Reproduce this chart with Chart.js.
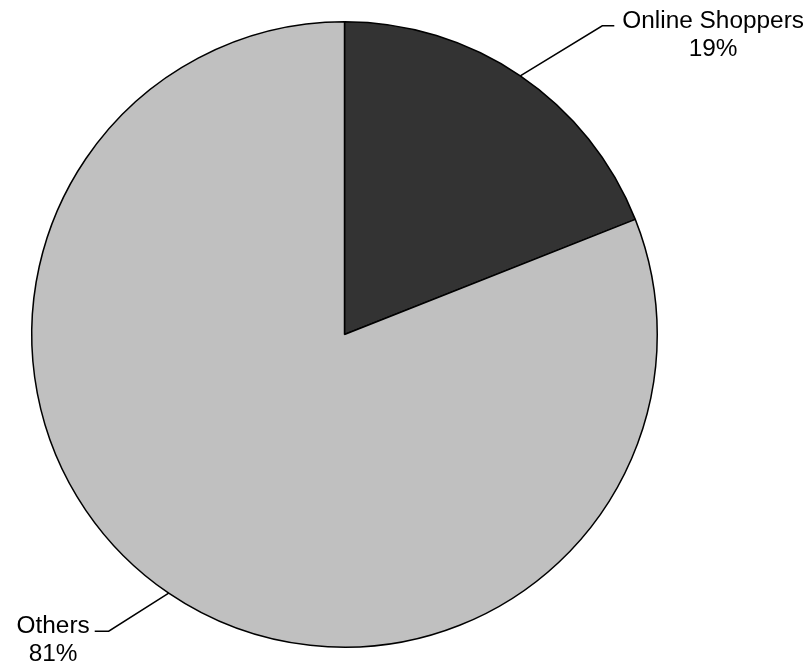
<!DOCTYPE html>
<html>
<head>
<meta charset="utf-8">
<script src="https://cdn.jsdelivr.net/npm/chart.js@4"></script>
<style>
  html, body { margin: 0; padding: 0; background: #fff; }
  #wrap { width: 809px; height: 664px; }
</style>
</head>
<body>
<div id="wrap"><canvas id="myChart" width="809" height="664"></canvas></div>
<script>
// data
var labels = ["Online Shoppers", "Others"];
var shares = [19, 81];
var colors = ['#333333', '#c0c0c0'];

// leader line shape per slice: elbow offset from slice edge, then short tail
var leaders = [
	{dx: 82, dy: -50, tail: 12},
	{dx: -60, dy: 38, tail: -14}
];

var leaderLabels = {
	id: 'leaderLabels',
	afterDatasetsDraw: function(chart) {
		var ctx = chart.ctx;
		var meta = chart.getDatasetMeta(0);
		ctx.save();
		ctx.font = '24.4px "Liberation Sans", Arial, sans-serif';
		ctx.fillStyle = '#000';
		ctx.strokeStyle = '#000';
		ctx.lineWidth = 1.5;
		meta.data.forEach(function(arc, i) {
			var p = arc.getProps(['x', 'y', 'startAngle', 'endAngle', 'outerRadius'], true);
			var mid = (p.startAngle + p.endAngle) / 2;
			var ex = p.x + Math.cos(mid) * p.outerRadius;
			var ey = p.y + Math.sin(mid) * p.outerRadius;
			var L = leaders[i];
			var bx = ex + L.dx, by = ey + L.dy;
			var tx = bx + L.tail;
			ctx.beginPath();
			ctx.moveTo(ex, ey);
			ctx.lineTo(bx, by);
			ctx.lineTo(tx, by);
			ctx.stroke();
			var name = labels[i];
			var pct = shares[i] + '%';
			var w = ctx.measureText(name).width;
			var cx = L.tail > 0 ? tx + 8 + w / 2 : tx - 5 - w / 2;
			ctx.textAlign = 'center';
			ctx.textBaseline = 'alphabetic';
			ctx.fillText(name, cx, by + 2);
			ctx.fillText(pct, cx, by + 30);
		});
		ctx.restore();
	}
};

var ctx = document.getElementById("myChart");
var pieChart = new Chart(ctx, {
	type: 'pie',
	data: {
		labels: labels,
		datasets: [{
			data: shares,
			backgroundColor: colors,
			borderColor: '#000',
			borderWidth: 1.5
		}]
	},
	options: {
		responsive: false,
		animation: false,
		layout: { padding: { left: 31, top: 21, right: 151, bottom: 16 } },
		plugins: {
			legend: { display: false },
			tooltip: { enabled: false }
		}
	},
	plugins: [leaderLabels]
});
</script>
</body>
</html>
